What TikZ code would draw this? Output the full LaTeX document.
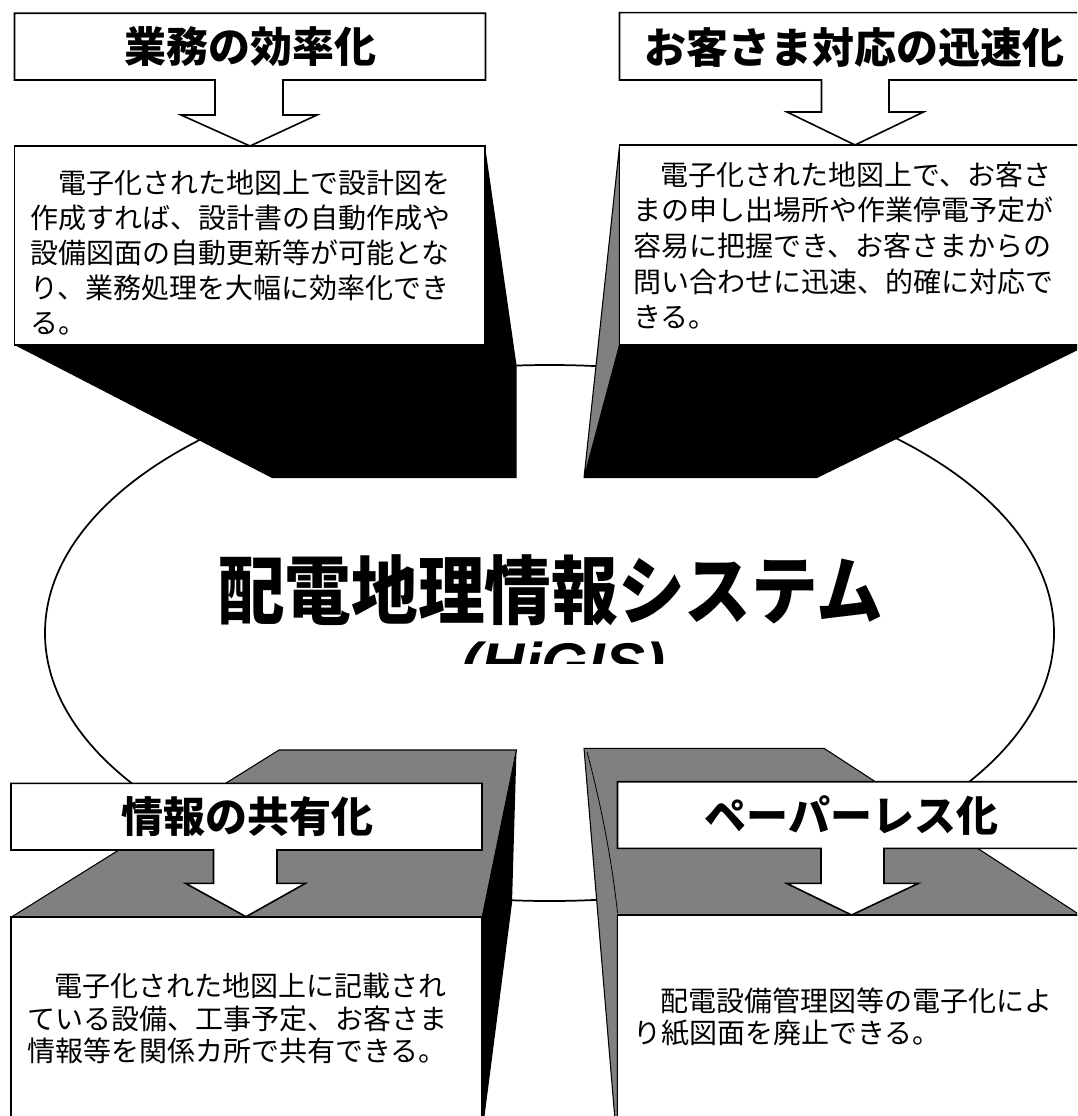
\documentclass[tikz,border=0pt]{standalone}
\usepackage{fontspec}
\usepackage{graphicx}
\newfontfamily\jp{Noto Sans CJK JP}
\newfontfamily\lat{Liberation Sans}
\tikzset{
  body/.style={anchor=base west, inner sep=0pt, font=\jp\fontsize{21pt}{25pt}\selectfont},
  head/.style={inner sep=0pt, font=\jp\bfseries\fontsize{31.5pt}{36pt}\selectfont},
  panel/.style={draw=black, fill=white, line width=1.2pt, line join=miter},
  shade/.style={fill=black},
  stip/.style={fill=black!50, draw=black, line width=0.8pt, line join=miter},
  rim/.style={draw=black, line width=1.3pt}
}
\begin{document}
\begin{tikzpicture}[x=0.75pt,y=-0.75pt]
\useasboundingbox (0,0) rectangle (1077,1116);
\clip (0,0) rectangle (1077,1116);
\fill[white] (0,0) rectangle (1077,1116);

% central ellipse
\draw[rim] (549.5,633) ellipse [x radius=504.5, y radius=268];

% ---- extrusions ----
% top-left
\fill[shade] (14.5,345) -- (272,478) -- (516.5,478) -- (516.5,365) -- (485,146) -- (485,345) -- cycle;
% top-right
\filldraw[stip] (619.5,146) -- (584,478) -- (619.5,345) -- cycle;
\fill[shade] (619.5,345) -- (584,478) -- (817,478) -- (1080,349) -- (1080,345) -- cycle;
% bottom-left
\filldraw[stip] (12,916.7) -- (279,750) -- (516.5,750) -- (482,918) -- cycle;
\fill[shade] (516.5,750) -- (512,903) -- (484,1120) -- (482,1120) -- (482,918) -- cycle;
% bottom-right
\filldraw[stip] (584,748.3) -- (824,748.3) -- (1080,915) -- (617.5,915) -- (617.5,1120) -- (615,1120) -- cycle;
\draw[line width=0.6pt] (587,752) .. controls (600,800) and (612,860) .. (617.5,913);

% ---- header + arrow outlines ----
\filldraw[panel] (14.5,13.3) -- (485.5,13.3) -- (485.5,80) -- (283,80) -- (283,115) -- (317,115) -- (250,146)
  -- (181,115) -- (215,115) -- (215,80) -- (14.5,80) -- cycle;
\filldraw[panel] (619.5,12.7) -- (1082,12.7) -- (1082,80) -- (889,80) -- (889,112) -- (923.5,112) -- (855,145)
  -- (787,112) -- (821.5,112) -- (821.5,80) -- (619.5,80) -- cycle;
\filldraw[panel] (11,783.3) -- (482,783.3) -- (482,850) -- (277,850) -- (277,883.3) -- (305.5,883.3) -- (246,916.7)
  -- (185.5,883.3) -- (213.5,883.3) -- (213.5,850) -- (11,850) -- cycle;
\filldraw[panel] (617.5,781.7) -- (1082,781.7) -- (1082,848.3) -- (884,848.3) -- (884,883.3) -- (918.5,883.3) -- (851.6,915)
  -- (786.5,883.3) -- (821,883.3) -- (821,848.3) -- (617.5,848.3) -- cycle;

% ---- text boxes ----
\filldraw[panel] (14.5,146) rectangle (485,345);
\filldraw[panel] (619.5,145) rectangle (1082,345);
\filldraw[panel] (11,916.7) rectangle (482,1125);
\filldraw[panel] (617.5,915) rectangle (1082,1125);

% ---- headers ----
\node[head] (h1) at (250,47) {業務の効率化};
\node[head] (h2) at (854.5,48) {お客さま対応の迅速化};
\node[head] (h3) at (247,817) {情報の共有化};
\node[head] (h4) at (851.5,815) {ペーパーレス化};

% ---- body texts ----
\node[body] (a1) at (58,193.5) {電子化された地図上で設計図を};
\node[body] (a2) at (30,228.5) {作成すれば、設計書の自動作成や};
\node[body] (a3) at (30,263.5) {設備図面の自動更新等が可能とな};
\node[body] (a4) at (30,298.5) {り、業務処理を大幅に効率化でき};
\node[body] (a5) at (30,333.5) {る。};

\node[body] (b1) at (660,185.5) {電子化された地図上で、お客さ};
\node[body] (b2) at (633,221) {まの申し出場所や作業停電予定が};
\node[body] (b3) at (633,256.5) {容易に把握でき、お客さまからの};
\node[body] (b4) at (633,292) {問い合わせに迅速、的確に対応で};
\node[body] (b5) at (633,327.5) {きる。};

\node[body] (c1) at (54,996.5) {電子化された地図上に記載され};
\node[body] (c2) at (27,1029) {ている設備、工事予定、お客さま};
\node[body] (c3) at (27,1061.5) {情報等を関係カ所で共有できる。};

\node[body] (d1) at (660,1011) {配電設備管理図等の電子化によ};
\node[body] (d2) at (633,1043.5) {り紙図面を廃止できる。};

% ---- title ----
\node[inner sep=0pt, font=\jp\bfseries\fontsize{50pt}{56pt}\selectfont] (title) at (550.5,590)
  {\scalebox{1}[1.12]{配電地理情報システム}};
\begin{scope}
  \clip (420,600) rectangle (720,663);
  \node[anchor=base, inner sep=0pt, font=\lat\bfseries\itshape\fontsize{42pt}{46pt}\selectfont] (sub) at (563.5,682)
    {\scalebox{1.07}[1]{(HiGIS)}};
\end{scope}
\end{tikzpicture}
\end{document}
